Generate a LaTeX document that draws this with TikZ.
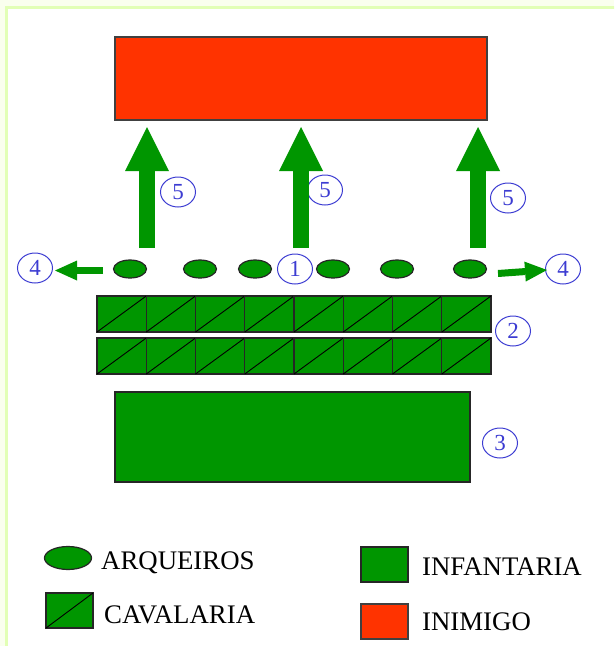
\documentclass[tikz,border=0pt]{standalone}
\usepackage{fontspec}
\setmainfont{Liberation Serif}
\usetikzlibrary{shapes.geometric,arrows.meta}
\definecolor{army}{RGB}{0,150,0}
\definecolor{foe}{RGB}{255,51,0}
\definecolor{tag}{RGB}{60,60,210}
\definecolor{paper}{RGB}{250,255,238}
\definecolor{frameline}{RGB}{226,255,182}
\tikzset{
  unit/.style={draw=black!85, line width=1.2pt, inner sep=0pt, outer sep=0pt},
  archer/.style={unit, ellipse, fill=army, minimum width=33pt, minimum height=18pt},
  cav/.style={unit, rectangle, fill=army, minimum width=49.25pt, minimum height=36pt},
  inf/.style={unit, rectangle, fill=army},
  enemy/.style={unit, rectangle, fill=foe, draw=black!75},
  tagmark/.style={ellipse, draw=tag, text=tag, line width=1pt, inner sep=0pt,
    minimum width=35pt, minimum height=30pt, font=\fontsize{23}{23}\selectfont},
  bigmove/.style={draw=army, line width=16pt,
    -{Triangle[length=44pt, width=44pt, line width=0pt]}},
  sidemove/.style={draw=army, line width=7pt,
    -{Triangle[length=22pt, width=20pt, line width=0pt]}},
  legendtext/.style={anchor=base west, inner sep=0pt, font=\fontsize{26.8}{28}\selectfont}
}
\begin{document}
\begin{tikzpicture}[x=1pt, y=-1pt]
\useasboundingbox (0,0) rectangle (614,646);
% page and frame (right and bottom edges run off the page)
\begin{scope}
\clip (0,0) rectangle (614,646);
\fill[paper] (0,0) rectangle (614,646);
\filldraw[fill=white, draw=frameline, line width=3pt] (6.5,7.5) rectangle (640,680);
\end{scope}

% enemy line
\node[enemy, minimum width=372pt, minimum height=83pt] (foe) at (301,78.5) {};

% archers
\foreach \n/\x in {1/130,2/200,3/255,4/333,5/397,6/470}
  \node[archer] (a\n) at (\x,269) {};

% cavalry, two rows of eight
\foreach \r/\y in {1/314,2/356}
  \foreach \i in {0,...,7} {
    \node[cav] (c\r-\i) at ({121.625+49.25*\i},\y) {};
    \draw[black, line width=0.9pt] (c\r-\i.south west) -- (c\r-\i.north east);
  }

% infantry block
\node[inf, minimum width=355pt, minimum height=90pt] (inf) at (292.5,437) {};

% numbered marks
\node[tagmark] (t1) at (295,269) {1};
\node[tagmark] (t2) at (513,331) {2};
\node[tagmark] (t3) at (500,443) {3};
\node[tagmark] (t4l) at (35,268) {4};
\node[tagmark] (t4r) at (563,269) {4};
\node[tagmark] (t5a) at (178,192) {5};
\node[tagmark] (t5b) at (325,190) {5};
\node[tagmark] (t5c) at (508,198) {5};

% advance of the archers
\coordinate (s1) at (147,248); \coordinate (e1) at (147,127);
\coordinate (s2) at (301,248); \coordinate (e2) at (301,127);
\coordinate (s3) at (478,248); \coordinate (e3) at (478,127);
\draw[bigmove] (s1) -- (e1);
\draw[bigmove] (s2) -- (e2);
\draw[bigmove] (s3) -- (e3);

% withdrawal to the flanks
\coordinate (wl) at (103,270.5); \coordinate (wlt) at (55,270.5);
\coordinate (wr) at (498,273.5); \coordinate (wrt) at (547,270);
\draw[sidemove] (wl) -- (wlt);
\draw[sidemove] (wr) -- (wrt);

% legend
\node[archer, minimum width=47pt, minimum height=23pt] (la) at (68,558) {};
\node[legendtext] (lat) at (101,569) {ARQUEIROS};
\node[cav, minimum width=47pt, minimum height=35pt] (lc) at (69.5,610.5) {};
\draw[black, line width=0.9pt] (lc.south west) -- (lc.north east);
\node[legendtext] (lct) at (104,623) {CAVALARIA};
\node[inf, minimum width=47pt, minimum height=35pt] (li) at (384.5,564.5) {};
\node[legendtext] (lit) at (422,575) {INFANTARIA};
\node[enemy, minimum width=47pt, minimum height=35pt] (le) at (384.5,621.5) {};
\node[legendtext] (let) at (422,630) {INIMIGO};
\end{tikzpicture}
\end{document}
